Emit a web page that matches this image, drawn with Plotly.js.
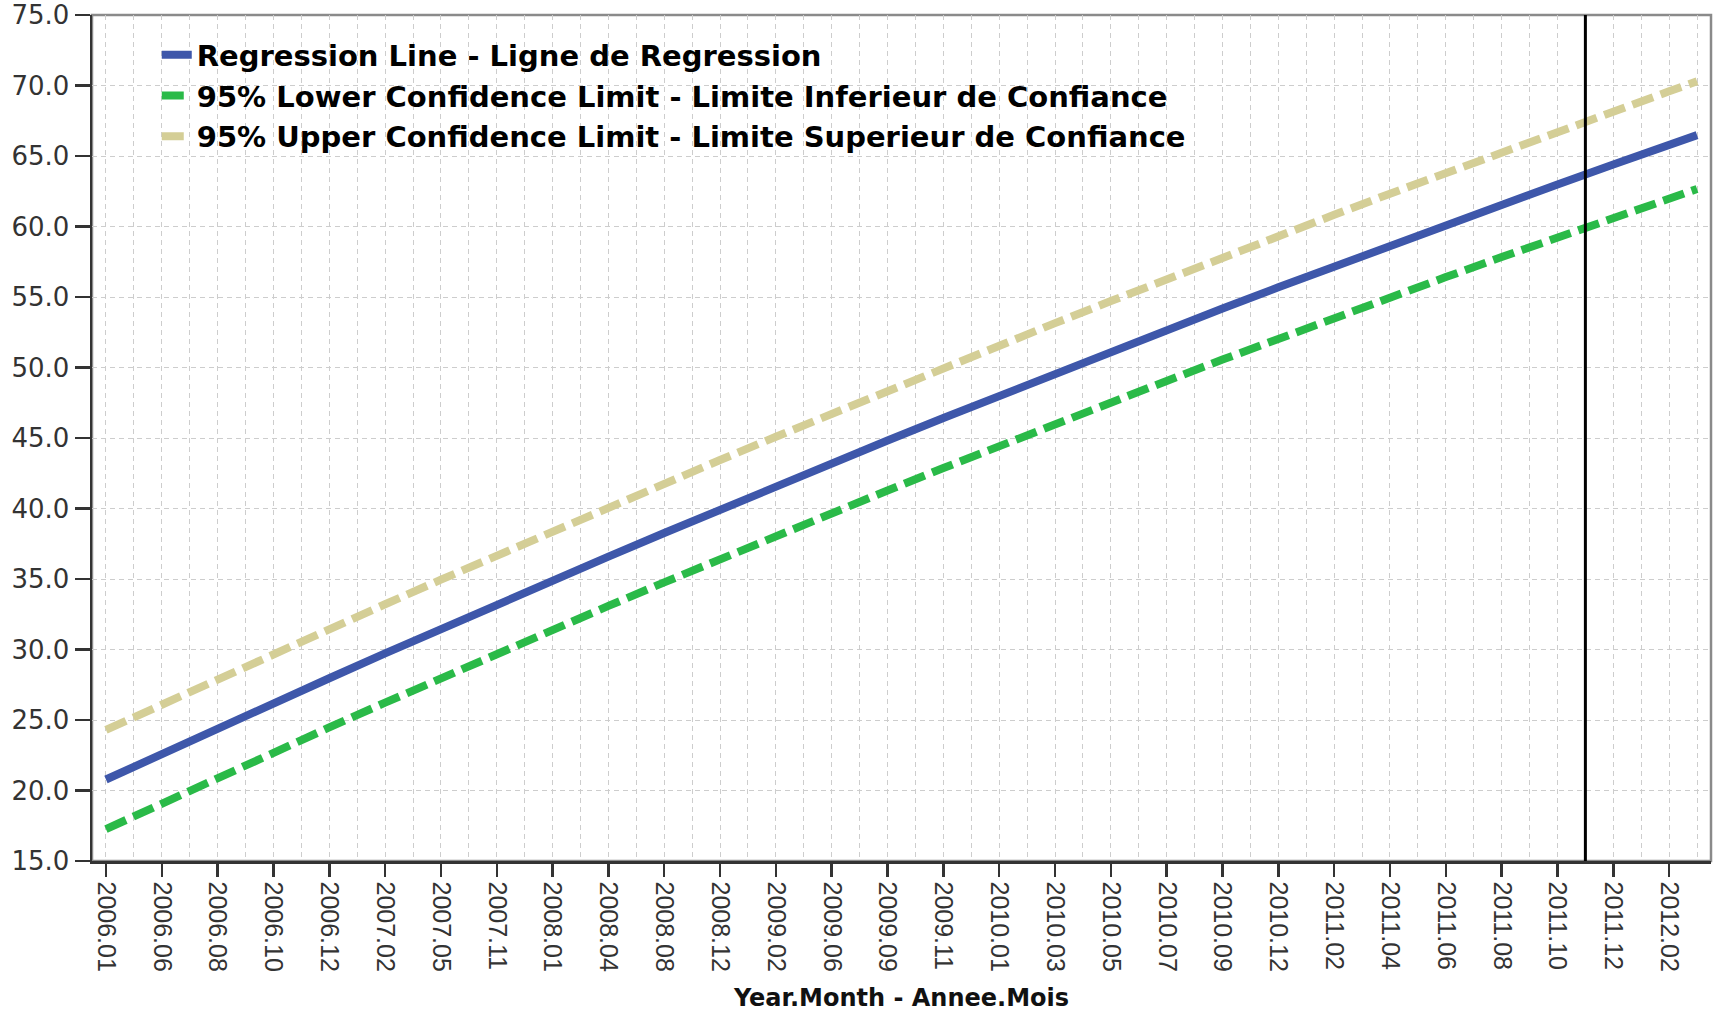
<!DOCTYPE html>
<html>
<head>
<meta charset="utf-8">
<script src="https://cdn.plot.ly/plotly-3.0.1.min.js"></script>
<style>
  html, body { margin: 0; padding: 0; background: #ffffff; }
  #chart { width: 1715px; height: 1012px; }
</style>
</head>
<body>
<div id="chart"></div>
<script>
// Category axis: every Year.Month present in the data (in order)
const allMonths = ['2006.01','2006.04','2006.06','2006.07','2006.08','2006.09','2006.10','2006.11','2006.12',
  '2007.01','2007.02','2007.03','2007.05','2007.08','2007.11','2007.12',
  '2008.01','2008.02','2008.04','2008.06','2008.08','2008.10','2008.12',
  '2009.01','2009.02','2009.04','2009.06','2009.07','2009.09','2009.10','2009.11','2009.12',
  '2010.01','2010.02','2010.03','2010.04','2010.05','2010.06','2010.07','2010.08','2010.09','2010.10','2010.12',
  '2011.01','2011.02','2011.03','2011.04','2011.05','2011.06','2011.07','2011.08','2011.09','2011.10','2011.11','2011.12',
  '2012.01','2012.02','2012.03'];

// Labelled ticks on the x axis
const tickMonths = ['2006.01','2006.06','2006.08','2006.10','2006.12','2007.02','2007.05','2007.11',
  '2008.01','2008.04','2008.08','2008.12','2009.02','2009.06','2009.09','2009.11',
  '2010.01','2010.03','2010.05','2010.07','2010.09','2010.12','2011.02','2011.04',
  '2011.06','2011.08','2011.10','2011.12','2012.02'];

const readMonths = ['2006.01','2006.06','2006.08','2006.10','2006.12','2007.02','2007.05','2007.11',
  '2008.01','2008.04','2008.08','2008.12','2009.02','2009.06','2009.09','2009.11',
  '2010.01','2010.03','2010.05','2010.07','2010.09','2010.12','2011.02','2011.04',
  '2011.06','2011.08','2011.10','2011.12','2012.02','2012.03'];

const regression = [20.78,22.60,24.40,26.19,27.96,29.72,31.46,33.18,34.89,36.59,38.26,39.93,41.57,43.20,44.82,46.42,
  48.00,49.57,51.12,52.66,54.18,55.69,57.17,58.65,60.11,61.55,62.98,64.39,65.79,66.48];
const lower95 = [17.26,19.09,20.90,22.69,24.47,26.23,27.97,29.69,31.40,33.09,34.76,36.42,38.05,39.67,41.28,42.87,
  44.44,45.99,47.53,49.05,50.56,52.05,53.51,54.97,56.41,57.83,59.24,60.62,61.99,62.66];
const upper95 = [24.30,26.11,27.90,29.69,31.45,33.21,34.95,36.67,38.38,40.09,41.76,43.44,45.09,46.73,48.36,49.97,
  51.56,53.15,54.71,56.27,57.80,59.33,60.83,62.33,63.81,65.27,66.72,68.16,69.59,70.30];

const seriesNames = ['Regression Line - Ligne de Regression',
  '95% Lower Confidence Limit - Limite Inferieur de Confiance',
  '95% Upper Confidence Limit - Limite Superieur de Confiance'];

const markerMonth = '2011.11';
const yTicks = [15,20,25,30,35,40,45,50,55,60,65,70,75];

const gridMonths = allMonths.filter(m => tickMonths.indexOf(m) < 0);
const nulls = allMonths.map(() => null);
const markerIndex = allMonths.indexOf(markerMonth);

const traces = [
  { x: allMonths, y: nulls, type: 'scatter', mode: 'lines', xaxis: 'x', yaxis: 'y',
    showlegend: false, hoverinfo: 'skip', line: {width: 0} },
  { x: allMonths, y: nulls, type: 'scatter', mode: 'lines', xaxis: 'x2', yaxis: 'y',
    showlegend: false, hoverinfo: 'skip', line: {width: 0} },
  { x: readMonths, y: regression, name: seriesNames[0], type: 'scatter', mode: 'lines',
    line: {color: '#3e57aa', width: 8} },
  { x: readMonths, y: lower95, name: seriesNames[1], type: 'scatter', mode: 'lines',
    line: {color: '#2aba48', width: 8, dash: '22px,8px'} },
  { x: readMonths, y: upper95, name: seriesNames[2], type: 'scatter', mode: 'lines',
    line: {color: '#d4ce96', width: 8, dash: '22px,8px'} }
];

const gridStyle = {showgrid: true, gridcolor: '#cdcdcd', gridwidth: 1, griddash: '5px,4px'};

const layout = {
  width: 1715, height: 1012,
  margin: {l: 92, r: 4, t: 15, b: 151, pad: 0},
  paper_bgcolor: '#ffffff', plot_bgcolor: '#ffffff',
  showlegend: true,
  legend: {
    x: 0.040, y: 0.983, xanchor: 'left', yanchor: 'top',
    bgcolor: 'rgba(0,0,0,0)', borderwidth: 0,
    font: {family: 'DejaVu Sans', size: 29, color: '#000000', weight: 'bold'},
    traceorder: 'normal'
  },
  xaxis: Object.assign({
    type: 'category', categoryorder: 'array', categoryarray: allMonths,
    range: [-0.5, allMonths.length - 0.5],
    tickmode: 'array', tickvals: tickMonths, ticktext: tickMonths,
    tickangle: 90,
    ticks: 'outside', ticklen: 13, tickwidth: 2.5, tickcolor: '#333333',
    showline: true, linecolor: '#333333', linewidth: 2.5,
    tickfont: {family: 'Liberation Sans, Arial, sans-serif', size: 25, color: '#333333'},
    title: {text: 'Year.Month - Annee.Mois', standoff: 20,
      font: {family: 'DejaVu Sans', size: 24, color: '#111111', weight: 'bold'}},
    zeroline: false, fixedrange: true
  }, gridStyle),
  xaxis2: Object.assign({
    type: 'category', categoryorder: 'array', categoryarray: allMonths,
    overlaying: 'x', side: 'bottom', anchor: 'y',
    range: [-0.5, allMonths.length - 0.5],
    tickmode: 'array', tickvals: gridMonths,
    ticks: '', showticklabels: false, showline: false, zeroline: false
  }, gridStyle),
  yaxis: Object.assign({
    range: [15, 75], tickmode: 'array', tickvals: yTicks,
    tickformat: '.1f',
    ticks: 'outside', ticklen: 15, tickwidth: 2.5, tickcolor: '#333333',
    showline: true, linecolor: '#333333', linewidth: 2.5,
    tickfont: {family: 'DejaVu Sans', size: 26, color: '#333333'},
    zeroline: false, fixedrange: true
  }, gridStyle),
  shapes: [
    {type: 'rect', xref: 'paper', yref: 'paper', x0: 0, x1: 1, y0: 0, y1: 1,
      line: {color: '#8a8a8a', width: 2.5}, layer: 'below'},
    {type: 'line', xref: 'x', yref: 'paper', x0: markerIndex, x1: markerIndex, y0: 0, y1: 1,
      line: {color: '#000000', width: 3}, layer: 'above'}
  ]
};

Plotly.newPlot('chart', traces, layout, {displayModeBar: false, staticPlot: true});
</script>
</body>
</html>
